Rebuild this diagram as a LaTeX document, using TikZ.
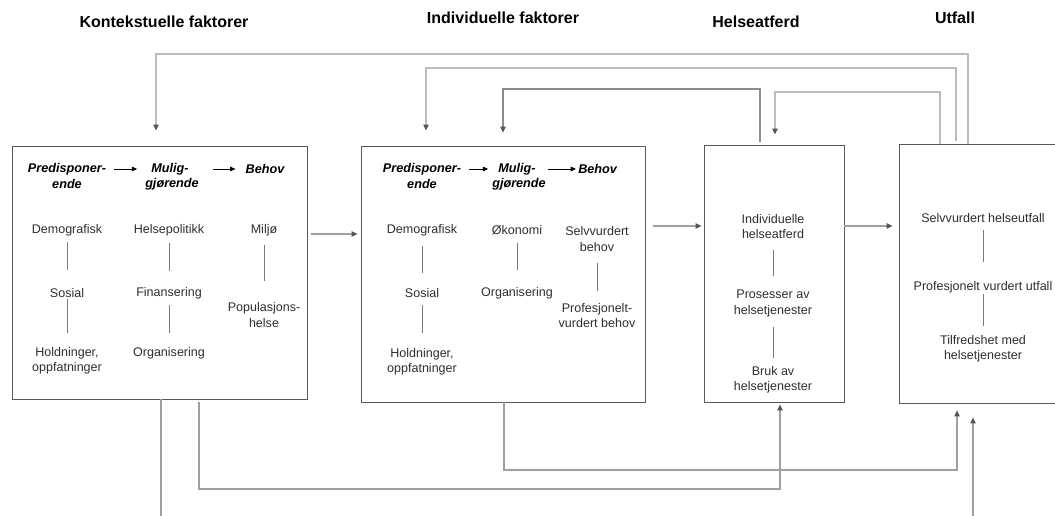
\documentclass[tikz,border=0pt]{standalone}
\usepackage{fontspec}
\setmainfont{Liberation Sans}
\usetikzlibrary{arrows.meta,fit}
\definecolor{boxline}{HTML}{5A5A5A}
\definecolor{flow}{HTML}{A0A0A0}
\definecolor{feed}{HTML}{BDBDBD}
\definecolor{feeddark}{HTML}{8C8C8C}
\definecolor{tipcol}{HTML}{555555}
\definecolor{txt}{HTML}{2E2E2E}
\definecolor{tickcol}{HTML}{7A7A7A}

\begin{document}
\begin{tikzpicture}[x=0.75pt,y=-0.75pt,
  panel/.style={draw=boxline, line width=0.6pt, inner sep=0pt},
  item/.style={font=\fontsize{9.4}{11.6}\selectfont, text=txt, align=center, inner sep=0pt},
  head/.style={font=\fontsize{12}{14}\selectfont\bfseries, inner sep=0pt},
  dim/.style={font=\fontsize{9.5}{11}\selectfont\bfseries\itshape, inner sep=0pt},
  tick/.style={draw=tickcol, line width=0.6pt},
  tip/.style={-{Triangle[length=4.5pt,width=4pt,color=tipcol]}},
  flowarrow/.style={tip, draw=flow, line width=0.8pt},
  feedback/.style={tip, draw=feed, line width=1pt},
  feedbackdark/.style={tip, draw=feeddark, line width=0.8pt},
  plainline/.style={draw=flow, line width=0.8pt},
  dimarrow/.style={-{Triangle[length=4pt,width=3.5pt]}, line width=0.6pt, draw=black},
]
\path[use as bounding box] (0,0) rectangle (1055,516);

% column headings
\node[head] (hctx) at (164,22) {Kontekstuelle faktorer};
\node[head] (hind) at (503,18) {Individuelle faktorer};
\node[head] (hbeh) at (756,22) {Helseatferd};
\node[head] (hout) at (955,18) {Utfall};

% the four panels
\node[panel, fit={(12,146) (307,399)}] (ctx) {};
\node[panel, fit={(361,146) (645,402)}] (ind) {};
\node[panel, fit={(704,145) (844,402)}] (beh) {};
\node[panel, fit={(899,144) (1062,403)}] (out) {};

% contextual factors
\node[dim] (pre1) at (67,169) {Predisponer-};
\node[dim] (pre1b) at (67,184) {ende};
\node[dim] (mul1) at (170,169) {Mulig-};
\node[dim] (mul1b) at (172,184) {gjørende};
\node[dim] (beh1) at (265,169) {Behov};
\draw[dimarrow, shorten <=6pt, shorten >=10.5pt] (pre1.east) -- (mul1.west);
\draw[dimarrow, shorten <=18pt, shorten >=7.5pt] (mul1.east) -- (beh1.west);

\node[item] (demo1) at (67,230) {Demografisk};
\node[item] (sos1) at (67,293) {Sosial};
\node[item] (hold1) at (67,360.5) {Holdninger,\\oppfatninger};
\node[item] (pol1) at (169,230) {Helsepolitikk};
\node[item] (fin1) at (169,293) {Finansering};
\node[item] (org1) at (169,353) {Organisering};
\node[item] (milj) at (264,230) {Miljø};
\node[item] (pop) at (264,315) {Populasjons-\\helse};

\draw[tick, shorten <=9pt, shorten >=17.25pt] (demo1.center) -- (demo1.center |- sos1.center);
\draw[tick, shorten <=4.5pt, shorten >=20.6pt] (sos1.center) -- (sos1.center |- hold1.center);
\draw[tick, shorten <=9.75pt, shorten >=16.5pt] (pol1.center) -- (pol1.center |- fin1.center);
\draw[tick, shorten <=9pt, shorten >=15pt] (fin1.center) -- (fin1.center |- org1.center);
\draw[tick, shorten <=11.25pt, shorten >=25.5pt] (milj.center) -- (milj.center |- pop.center);

% individual factors
\node[dim] (pre2) at (422,169) {Predisponer-};
\node[dim] (pre2b) at (422,184) {ende};
\node[dim] (mul2) at (517,169) {Mulig-};
\node[dim] (mul2b) at (519,184) {gjørende};
\node[dim, anchor=west] (beh2) at (578,169) {Behov};
\draw[dimarrow, shorten <=6pt, shorten >=7.5pt] (pre2.east) -- (mul2.west);
\draw[dimarrow, shorten <=9pt, shorten >=1.5pt] (mul2.east) -- (beh2.west);

\node[item] (demo2) at (422,230) {Demografisk};
\node[item] (sos2) at (422,293) {Sosial};
\node[item] (hold2) at (422,362) {Holdninger,\\oppfatninger};
\node[item] (oko) at (517,230) {Økonomi};
\node[item] (org2) at (517,293) {Organisering};
\node[item] (selv) at (597,239) {Selvvurdert\\behov};
\node[item] (prof) at (597,315.5) {Profesjonelt-\\vurdert behov};

\draw[tick, shorten <=12pt, shorten >=15pt] (demo2.center) -- (demo2.center |- sos2.center);
\draw[tick, shorten <=9pt, shorten >=21.75pt] (sos2.center) -- (sos2.center |- hold2.center);
\draw[tick, shorten <=9.75pt, shorten >=17.25pt] (oko.center) -- (oko.center |- org2.center);
\draw[tick, shorten <=18pt, shorten >=18.4pt] (selv.center) -- (selv.center |- prof.center);

% health behaviour
\node[item] (indh) at (773,226.5) {Individuelle\\helseatferd};
\node[item] (pros) at (773,303.5) {Prosesser av\\helsetjenester};
\node[item] (bruk) at (773,380) {Bruk av\\helsetjenester};
\draw[tick, shorten <=17.6pt, shorten >=20.6pt] (indh.center) -- (indh.center |- pros.center);
\draw[tick, shorten <=17.6pt, shorten >=16.5pt] (pros.center) -- (pros.center |- bruk.center);

% outcomes
\node[item] (sh) at (983,218) {Selvvurdert helseutfall};
\node[item] (pv) at (983,287) {Profesjonelt vurdert utfall};
\node[item] (tilf) at (983,348.5) {Tilfredshet med\\helsetjenester};
\draw[tick, shorten <=9pt, shorten >=18.75pt] (sh.center) -- (sh.center |- pv.center);
\draw[tick, shorten <=5.25pt, shorten >=16.9pt] (pv.center) -- (pv.center |- tilf.center);

% levels of the main flow
\coordinate (yA) at (0,234);
\coordinate (yB) at (0,226);
\draw[flowarrow, shorten <=3pt, shorten >=2.25pt] (ctx.east |- yA) -- (ind.west |- yA);
\draw[flowarrow, shorten <=6pt, shorten >=1.5pt] (ind.east |- yB) -- (beh.west |- yB);
\draw[flowarrow, shorten >=4.5pt] (beh.east |- yB) -- (out.west |- yB);

% feedback loops over the top
\coordinate (f1r) at (968,54);
\coordinate (f1l) at (156,54);
\coordinate (f2r) at (956,68);
\coordinate (f2l) at (426,68);
\coordinate (f3r) at (760,89);
\coordinate (f3l) at (503,89);
\coordinate (f4r) at (940,92);
\coordinate (f4l) at (775,92);
\draw[feedback, shorten >=11.25pt] (out.north -| f1r) -- (f1r) -- (f1l) -- (ctx.north -| f1l);
\draw[feedback, shorten <=2pt, shorten >=11.25pt] (out.north -| f2r) -- (f2r) -- (f2l) -- (ind.north -| f2l);
\draw[feedbackdark, shorten <=2pt, shorten >=9.75pt] (beh.north -| f3r) -- (f3r) -- (f3l) -- (ind.north -| f3l);
\draw[feedback, shorten >=7.5pt] (out.north -| f4r) -- (f4r) -- (f4l) -- (beh.north -| f4l);

% links underneath
\coordinate (d1) at (161,520);
\coordinate (b2l) at (199,489);
\coordinate (b2r) at (780,489);
\coordinate (b3l) at (504,470);
\coordinate (b3r) at (957,470);
\coordinate (d4) at (973,520);
\draw[plainline] (ctx.south -| d1) -- (d1);
\draw[flowarrow, shorten <=2pt, shorten >=1.5pt] (ctx.south -| b2l) -- (b2l) -- (b2r) -- (beh.south -| b2r);
\draw[flowarrow, shorten >=5.25pt] (ind.south -| b3l) -- (b3l) -- (b3r) -- (out.south -| b3r);
\draw[flowarrow, shorten >=10.5pt] (d4) -- (out.south -| d4);
\end{tikzpicture}
\end{document}
